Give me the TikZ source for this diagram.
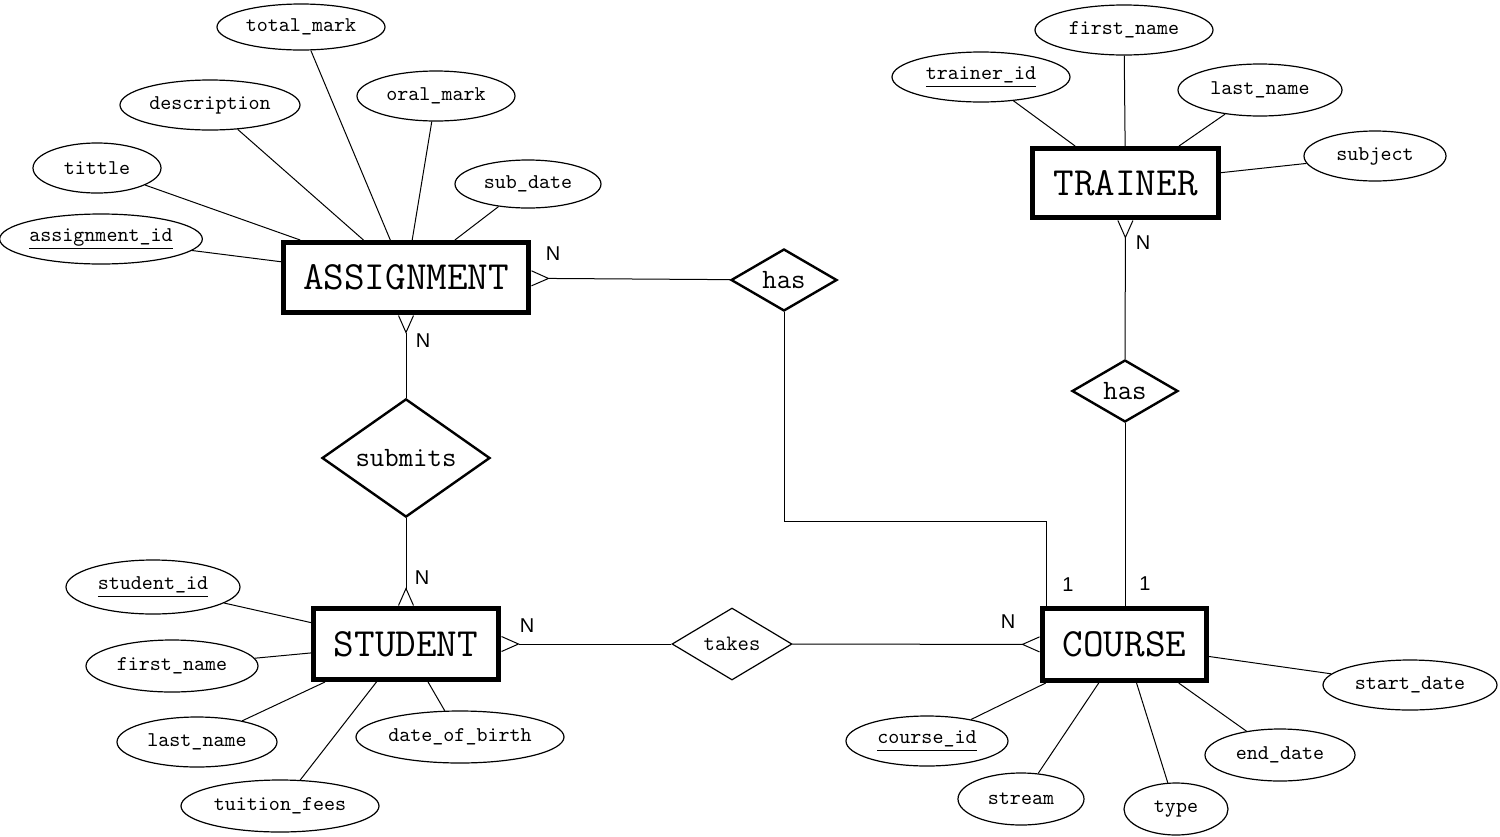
\documentclass[tikz,border=0pt]{standalone}
\usepackage{fontspec}
\newfontfamily\cardfont{Liberation Sans}
\usetikzlibrary{shapes.geometric}
\usetikzlibrary{arrows.meta}

\tikzset{
  entity/.style={draw,line width=2.5pt,inner sep=0pt,font=\ttfamily\fontsize{20}{22}\selectfont},
  attr/.style={draw,ellipse,line width=0.6pt,inner sep=0pt,font=\ttfamily\fontsize{10.5}{12}\selectfont},
  rel/.style={draw,diamond,inner sep=0pt,line width=1.2pt,font=\ttfamily\fontsize{14}{16}\selectfont},
  card/.style={font=\cardfont\fontsize{10}{11}\selectfont},
  crow/.style={-{Straight Barb[reversed,length=8.5pt,width=7.5pt]}},
}

\begin{document}
\begin{tikzpicture}[x=0.5pt,y=-0.5pt,line width=0.5pt]
    \useasboundingbox (0,0) rectangle (1500,836);

    \node[entity,minimum width=122.5pt,minimum height=35pt] (assignment) at (406,277.5) {ASSIGNMENT};
    \node[entity,minimum width=93pt,minimum height=34.5pt] (trainer) at (1125.5,183) {TRAINER};
    \node[entity,minimum width=92.5pt,minimum height=35.5pt] (student) at (406,644) {STUDENT};
    \node[entity,minimum width=82pt,minimum height=36pt] (course) at (1124.5,644.5) {COURSE};

    \node[rel,minimum width=53pt,minimum height=31pt] (hasasg) at (784,280) {has};
    \node[rel,minimum width=53pt,minimum height=31pt] (hastrn) at (1125,391) {has};
    \node[rel,minimum width=84pt,minimum height=50pt] (submits) at (406,458) {submits};
    \node[rel,line width=0.6pt,minimum width=60pt,minimum height=36pt,font=\ttfamily\fontsize{11}{13}\selectfont] (takes) at (732,644) {takes};

    \node[attr,minimum width=84pt,minimum height=23pt] (totalmark) at (301,27) {total\_mark};
    \node[attr,minimum width=90pt,minimum height=25pt] (description) at (210,105) {description};
    \node[attr,minimum width=79pt,minimum height=25pt] (oralmark) at (436,96) {oral\_mark};
    \node[attr,minimum width=64pt,minimum height=25pt] (tittle) at (97,168) {tittle};
    \node[attr,minimum width=73pt,minimum height=24pt] (subdate) at (528,184) {sub\_date};
    \node[attr,minimum width=100pt,minimum height=25pt] (assignmentid) at (101,239) {\underline{assignment\_id}};

    \node[attr,minimum width=89pt,minimum height=25pt] (trainerid) at (981,77) {\underline{trainer\_id}};
    \node[attr,minimum width=89pt,minimum height=25pt] (trnfirst) at (1124,30) {first\_name};
    \node[attr,minimum width=82pt,minimum height=26pt] (trnlast) at (1260,90) {last\_name};
    \node[attr,minimum width=71pt,minimum height=25pt] (subject) at (1375,156) {subject};

    \node[attr,minimum width=87pt,minimum height=27pt] (studentid) at (153,587) {\underline{student\_id}};
    \node[attr,minimum width=86pt,minimum height=26pt] (stdfirst) at (172,666) {first\_name};
    \node[attr,minimum width=80pt,minimum height=25pt] (stdlast) at (197,742) {last\_name};
    \node[attr,minimum width=99pt,minimum height=26pt] (fees) at (280,806) {tuition\_fees};
    \node[attr,minimum width=104pt,minimum height=26pt] (birth) at (460,737) {date\_of\_birth};

    \node[attr,minimum width=81pt,minimum height=25pt] (courseid) at (927,741) {\underline{course\_id}};
    \node[attr,minimum width=63pt,minimum height=26pt] (stream) at (1021,799) {stream};
    \node[attr,minimum width=52pt,minimum height=26pt] (type) at (1176,809) {type};
    \node[attr,minimum width=75pt,minimum height=26pt] (enddate) at (1280,755) {end\_date};
    \node[attr,minimum width=87pt,minimum height=25pt] (startdate) at (1410,685) {start\_date};

    \foreach \a in {totalmark,description,oralmark,tittle,subdate,assignmentid}
        \draw (\a) -- (assignment);
    \foreach \a in {trainerid,trnfirst,trnlast,subject}
        \draw (\a) -- (trainer);
    \foreach \a in {studentid,stdfirst,stdlast,fees,birth}
        \draw (\a) -- (student);
    \foreach \a in {courseid,stream,type,enddate,startdate}
        \draw (\a) -- (course);

    \draw[crow] (hasasg) -- (assignment);
    \draw[crow] (submits) -- (assignment);
    \draw[crow] (submits) -- (student);
    \draw[crow] (takes) -- (student);
    \draw[crow] (takes) -- (course);
    \draw[crow] (hastrn) -- (trainer);
    \draw (hastrn.south) -- (hastrn.south |- course.north);
    \coordinate (bend) at (1046,521);
    \draw (hasasg.south) |- (bend) -- (bend |- course.north);

    \node[card] (n1) at (553,254) {N};
    \node[card] (n2) at (423,341) {N};
    \node[card] (n3) at (422,578) {N};
    \node[card] (n4) at (527,626) {N};
    \node[card] (n5) at (1008,622) {N};
    \node[card] (n6) at (1143,243) {N};
    \node[card] (o1) at (1068,585) {1};
    \node[card] (o2) at (1145,584) {1};
\end{tikzpicture}
\end{document}
